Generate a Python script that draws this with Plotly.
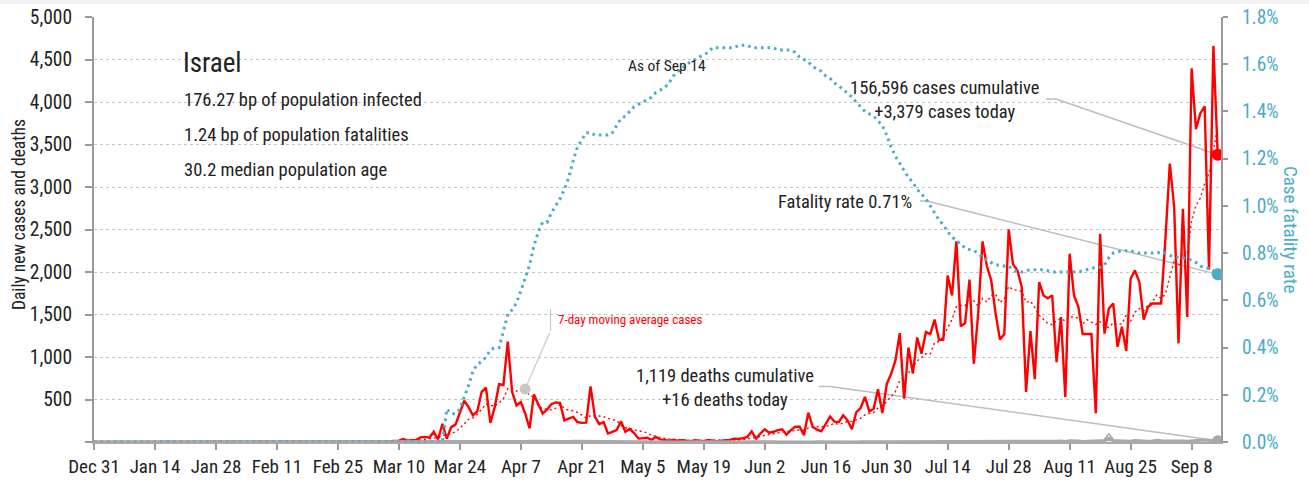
import pandas as pd
import plotly.graph_objects as go

# ---------------------------------------------------------------- data
dates = pd.date_range("2019-12-31", "2020-09-14", freq="D")

# daily new cases, one list per month (the first list also holds Dec 31)
cases_jan = [0] * 32
cases_feb = [0] * 20 + [1, 0, 0, 1, 0, 0, 0, 0, 1]
cases_mar = [3, 1, 2, 2, 5, 4, 6, 9, 14, 15, 35, 15, 20, 25, 55, 60, 50, 120, 30, 215,
             40, 175, 205, 335, 485, 410, 315, 360, 590, 640, 225]
cases_apr = [410, 680, 670, 1180, 590, 430, 470, 335, 160, 560, 445, 335, 380, 445, 465,
             460, 255, 275, 295, 235, 225, 228, 655, 295, 210, 235, 100, 120, 140, 245]
cases_may = [120, 155, 105, 40, 45, 50, 25, 60, 30, 20, 15, 25, 15, 20, 15, 10, 20, 15,
             10, 25, 20, 10, 15, 20, 25, 40, 35, 45, 60, 125, 40]
cases_jun = [100, 150, 110, 120, 140, 150, 85, 140, 180, 180, 80, 345, 180, 145, 125, 215,
             300, 240, 235, 315, 255, 150, 350, 400, 530, 360, 390, 620, 340, 680]
cases_jul = [800, 960, 1280, 510, 1110, 805, 1230, 1040, 1295, 1270, 1440, 1200, 1205, 1960,
             1725, 2360, 1360, 1400, 1910, 920, 1510, 2360, 2070, 1900, 1510, 1205, 1270,
             2500, 2090, 2020, 1825]
cases_aug = [590, 1305, 740, 1880, 1725, 1690, 1725, 940, 1470, 530, 2215, 1725, 1590, 1270,
             1270, 1270, 340, 2450, 1275, 1570, 1630, 1120, 1355, 1070, 1920, 2020, 1880,
             1440, 1590, 1630, 1630]
cases_sep = [1630, 2400, 3275, 2765, 1160, 2745, 1470, 4395, 3680, 3865, 3950, 2030, 4660, 3379]

# daily deaths
deaths_jan = [0] * 32
deaths_feb = [0] * 29
deaths_mar = [0] * 19 + [1, 0, 0, 0, 1, 1, 1, 2, 2, 1, 3, 3]
deaths_apr = [1, 4, 6, 4, 3, 6, 5, 5, 9, 8, 11, 13, 12, 8, 9, 10, 8, 7, 9, 8, 6, 5, 8, 7, 6,
              5, 4, 3, 6, 4]
deaths_may = [3, 3, 2, 4, 3, 2, 3, 1, 3, 2, 2, 4, 3, 2, 1, 2, 3, 2, 2, 1, 2, 2, 3, 1, 2, 1,
              2, 1, 1, 2, 0]
deaths_jun = [1, 0, 1, 2, 1, 0, 1, 2, 1, 1, 0, 1, 1, 2, 1, 1, 0, 2, 1, 1, 2, 1, 1, 2, 1, 2,
              1, 3, 2, 3]
deaths_jul = [2, 3, 3, 4, 3, 2, 4, 5, 5, 3, 5, 6, 5, 6, 7, 4, 6, 5, 5, 8, 4, 7, 3, 6, 5, 6,
              7, 8, 5, 9, 7]
deaths_aug = [6, 8, 8, 5, 9, 10, 8, 9, 13, 6, 14, 15, 11, 7, 10, 12, 13, 14, 18, 45, 15, 14,
              11, 12, 10, 17, 12, 14, 9, 13, 21]
deaths_sep = [14, 15, 18, 15, 19, 12, 9, 16, 17, 20, 23, 21, 15, 16]

# case fatality rate, percent
cfr_jan = [0] * 32
cfr_feb = [0] * 29
cfr_mar = [0] * 20 + [0.14, 0.12, 0.12, 0.14, 0.19, 0.24, 0.30, 0.33, 0.34, 0.36, 0.39]
cfr_apr = [0.40, 0.40, 0.47, 0.54, 0.56, 0.59, 0.64, 0.70, 0.75, 0.83, 0.89, 0.93, 0.93,
           0.97, 1.00, 1.03, 1.07, 1.12, 1.19, 1.25, 1.28, 1.31, 1.31, 1.30, 1.30, 1.30,
           1.30, 1.31, 1.34, 1.37]
cfr_may = [1.38, 1.40, 1.42, 1.43, 1.44, 1.45, 1.46, 1.48, 1.49, 1.50, 1.52, 1.55, 1.57,
           1.58, 1.60, 1.61, 1.62, 1.63, 1.64, 1.65, 1.67, 1.67, 1.67, 1.67, 1.67, 1.67,
           1.68, 1.68, 1.68, 1.67, 1.67]
cfr_jun = [1.67, 1.67, 1.67, 1.67, 1.66, 1.66, 1.66, 1.66, 1.65, 1.63, 1.62, 1.61, 1.59,
           1.58, 1.57, 1.55, 1.54, 1.52, 1.51, 1.49, 1.48, 1.46, 1.44, 1.42, 1.40, 1.39,
           1.38, 1.36, 1.34, 1.30]
cfr_jul = [1.25, 1.21, 1.18, 1.15, 1.12, 1.10, 1.07, 1.05, 1.03, 1.00, 0.97, 0.94, 0.92,
           0.89, 0.87, 0.85, 0.84, 0.82, 0.815, 0.81, 0.80, 0.78, 0.77, 0.76, 0.75, 0.75,
           0.745, 0.745, 0.73, 0.72, 0.72]
cfr_aug = [0.725, 0.73, 0.73, 0.73, 0.73, 0.725, 0.72, 0.72, 0.72, 0.72, 0.72, 0.72, 0.72,
           0.725, 0.73, 0.735, 0.74, 0.74, 0.75, 0.78, 0.80, 0.805, 0.81, 0.81, 0.81, 0.805,
           0.80, 0.80, 0.80, 0.80, 0.80]
cfr_sep = [0.805, 0.80, 0.79, 0.785, 0.78, 0.78, 0.775, 0.77, 0.76, 0.745, 0.74, 0.735,
           0.725, 0.71]

cases = (cases_jan + cases_feb + cases_mar + cases_apr + cases_may + cases_jun
         + cases_jul + cases_aug + cases_sep)
deaths = (deaths_jan + deaths_feb + deaths_mar + deaths_apr + deaths_may + deaths_jun
          + deaths_jul + deaths_aug + deaths_sep)
cfr = cfr_jan + cfr_feb + cfr_mar + cfr_apr + cfr_may + cfr_jun + cfr_jul + cfr_aug + cfr_sep

df = pd.DataFrame({"cases": cases, "deaths": deaths, "cfr": cfr}, index=dates)
df["ma7"] = df["cases"].rolling(7, min_periods=1).mean()

country = "Israel"
stats_lines = ["176.27 bp of population infected",
               "1.24 bp of population fatalities",
               "30.2 median population age"]
cum_cases = 156596
cum_deaths = 1119

x_tick_dates = pd.date_range("2019-12-31", "2020-09-08", freq="14D")
x_tick_text = ["Dec 31", "Jan 14", "Jan 28", "Feb 11", "Feb 25", "Mar 10", "Mar 24",
               "Apr 7", "Apr 21", "May 5", "May 19", "Jun 2", "Jun 16", "Jun 30",
               "Jul 14", "Jul 28", "Aug 11", "Aug 25", "Sep 8"]
y_tick_vals = [0, 500, 1000, 1500, 2000, 2500, 3000, 3500, 4000, 4500, 5000]
y_tick_text = ["", "500", "1,000", "1,500", "2,000", "2,500", "3,000", "3,500", "4,000",
               "4,500", "5,000"]
y2_tick_vals = [0, 0.2, 0.4, 0.6, 0.8, 1.0, 1.2, 1.4, 1.6, 1.8]
y2_tick_text = ["0.0%", "0.2%", "0.4%", "0.6%", "0.8%", "1.0%", "1.2%", "1.4%", "1.6%", "1.8%"]

# ---------------------------------------------------------------- styling / layout helpers
FONT = "Roboto Condensed, Liberation Sans Narrow, DejaVu Sans Condensed, sans-serif"
RED = "#FF0000"
BLUE = "#4AACC6"
GREY = "#A8A8A8"
LEADER = "#BDBDBD"
TEXT = "#222222"

W, H = 1309, 483
ML, MR, MT, MB = 94, 88, 17, 41
PW, PH = W - ML - MR, H - MT - MB
X_START = pd.Timestamp("2019-12-31")
X_END = pd.Timestamp("2020-09-14 18:00")
Y_MAX, Y2_MAX = 5000, 1.8


def xp(px):
    return (px - ML) / PW


def yp(py):
    return (H - MB - py) / PH


def xd(px):
    return (X_START + (X_END - X_START) * xp(px)).strftime("%Y-%m-%d %H:%M:%S")


def ds(ts):
    return pd.Timestamp(ts).strftime("%Y-%m-%d %H:%M:%S")


# ---------------------------------------------------------------- traces
fig = go.Figure()
fig.add_trace(go.Scatter(x=df.index, y=df["cases"], mode="lines",
                         line=dict(color=RED, width=2.4), hoverinfo="skip"))
fig.add_trace(go.Scatter(x=df.index, y=df["ma7"], mode="lines",
                         line=dict(color=RED, width=1.4, dash="2px,3px"), hoverinfo="skip"))
fig.add_trace(go.Scatter(x=df.index, y=df["deaths"], mode="lines",
                         line=dict(color=GREY, width=3), hoverinfo="skip"))
fig.add_trace(go.Scatter(x=df.index, y=df["cfr"], mode="lines", yaxis="y2",
                         line=dict(color=BLUE, width=3, dash="2.6px,4px"), hoverinfo="skip"))

last = df.index[-1]
ma_pick = pd.Timestamp("2020-04-08")
peak_death_day = df["deaths"].idxmax()

fig.add_trace(go.Scatter(x=[peak_death_day], y=[df.loc[peak_death_day, "deaths"]], mode="markers",
                         marker=dict(symbol="triangle-up-open", size=9, color=GREY,
                                     line=dict(width=1.5, color=GREY)), hoverinfo="skip"))
fig.add_trace(go.Scatter(x=[ma_pick], y=[df.loc[ma_pick, "ma7"]], mode="markers",
                         marker=dict(size=11, color="#C8C8C8"), hoverinfo="skip"))
fig.add_trace(go.Scatter(x=[last], y=[df.loc[last, "deaths"]], mode="markers",
                         marker=dict(size=11, color=GREY), hoverinfo="skip"))
fig.add_trace(go.Scatter(x=[last], y=[df.loc[last, "cfr"]], mode="markers", yaxis="y2",
                         marker=dict(size=12, color=BLUE), hoverinfo="skip"))
fig.add_trace(go.Scatter(x=[last], y=[df.loc[last, "cases"]], mode="markers",
                         marker=dict(size=12, color=RED), hoverinfo="skip"))

# ---------------------------------------------------------------- annotations
ann = []


def text(t, px, py, size=18.5, xanchor="left", color=TEXT, align="left", **kw):
    ann.append(dict(text=t, x=xp(px), y=yp(py), xref="paper", yref="paper",
                    xanchor=xanchor, yanchor="middle", showarrow=False, align=align,
                    font=dict(family=FONT, size=size, color=color), **kw))


text(country, 181, 63, size=27)
for i, line in enumerate(stats_lines):
    text(line, 182, 100 + 35 * i)
text(f"As of {last.strftime('%b')} {last.day}", 667, 66, size=15.5, xanchor="center")
text(f"{cum_cases:,} cases cumulative<br>+{df['cases'].iloc[-1]:,} cases today",
     945, 100, xanchor="center", align="center")
text(f"Fatality rate {df['cfr'].iloc[-1]:.2f}%", 914, 202, xanchor="right", align="right")
text(f"{cum_deaths:,} deaths cumulative<br>+{df['deaths'].iloc[-1]:,} deaths today",
     725, 388, xanchor="center", align="center")
text("7-day moving average cases", 556, 319, size=13, color=RED)

# axis titles
ann.append(dict(text="Daily new cases and deaths", x=xp(19), y=yp(215), xref="paper",
                yref="paper", xanchor="center", yanchor="middle", textangle=-90,
                showarrow=False, font=dict(family=FONT, size=17.5, color=TEXT)))
ann.append(dict(text="Case fatality rate", x=xp(1291), y=yp(230), xref="paper", yref="paper",
                xanchor="center", yanchor="middle", textangle=90, showarrow=False,
                font=dict(family=FONT, size=19, color=BLUE)))

# ---------------------------------------------------------------- leader lines
shapes = []


def seg(x0, y0, x1, y1, yref="y", color=LEADER, width=1.5):
    shapes.append(dict(type="line", xref="x", yref=yref, x0=x0, y0=y0, x1=x1, y1=y1,
                       line=dict(color=color, width=width), layer="below"))


def ypx(py):
    return Y_MAX * yp(py)


def y2px(py):
    return Y2_MAX * yp(py)


# cases label -> today's cases
seg(xd(1046), ypx(99), xd(1056), ypx(99))
seg(xd(1056), ypx(99), ds(last), df["cases"].iloc[-1])
# fatality label -> latest rate
seg(xd(920), y2px(201), xd(927), y2px(201), yref="y2")
seg(xd(927), y2px(201), ds(last), df["cfr"].iloc[-1], yref="y2")
# deaths label -> today's deaths
seg(xd(819), ypx(386.5), xd(830), ypx(386.5))
seg(xd(830), ypx(386.5), ds(last), df["deaths"].iloc[-1])
# moving average label
shapes.append(dict(type="line", xref="paper", yref="paper", x0=xp(550.5), x1=xp(550.5),
                   y0=yp(309), y1=yp(331), line=dict(color="#C8C8C8", width=1.2)))
seg(xd(549.5), ypx(333), ds(ma_pick), df.loc[ma_pick, "ma7"], color="#C8C8C8", width=1.2)

# thin page band along the top edge
shapes.append(dict(type="rect", xref="paper", yref="paper", x0=xp(0), x1=xp(W),
                   y0=yp(4), y1=yp(0), fillcolor="#F2F2F2", line=dict(width=0), layer="below"))

# ---------------------------------------------------------------- layout
fig.update_layout(
    width=W, height=H,
    margin=dict(l=ML, r=MR, t=MT, b=MB, pad=0, autoexpand=False),
    plot_bgcolor="white", paper_bgcolor="white",
    showlegend=False,
    font=dict(family=FONT, size=18.5, color=TEXT),
    annotations=ann, shapes=shapes,
    xaxis=dict(type="date", range=[ds(X_START), ds(X_END)], automargin=False,
               tickvals=list(x_tick_dates), ticktext=x_tick_text, tickangle=0,
               showgrid=False, zeroline=False,
               ticks="outside", ticklen=6, tickwidth=1.5, tickcolor="#999999",
               showline=True, linecolor="#AAAAAA", linewidth=2,
               tickfont=dict(family=FONT, size=19, color=TEXT)),
    yaxis=dict(range=[0, Y_MAX], tickvals=y_tick_vals, ticktext=y_tick_text, automargin=False,
               showgrid=True, gridcolor="#C4C4C4", gridwidth=1, griddash="dot",
               zeroline=False, ticks="outside", ticklen=7, tickwidth=1.5,
               tickcolor="#999999", showline=True, linecolor="#999999", linewidth=2,
               ticklabelstandoff=9,
               tickfont=dict(family=FONT, size=19.5, color=TEXT)),
    yaxis2=dict(range=[0, Y2_MAX], overlaying="y", side="right", automargin=False,
                tickvals=y2_tick_vals, ticktext=y2_tick_text,
                showgrid=False, zeroline=False, ticks="outside", ticklen=5, tickwidth=1.5,
                tickcolor="#999999", showline=True, linecolor="#999999", linewidth=2,
                ticklabelstandoff=10,
                tickfont=dict(family=FONT, size=19.5, color=BLUE)),
)

fig.write_html("out.html")
